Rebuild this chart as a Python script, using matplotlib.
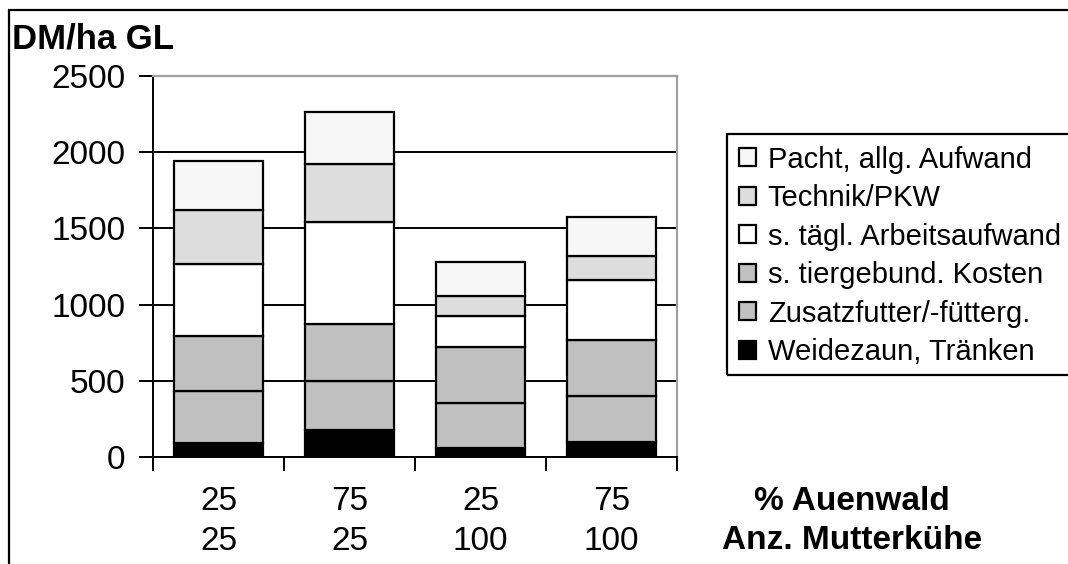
import numpy as np
import matplotlib
matplotlib.use('Agg')
import matplotlib.pyplot as plt
from matplotlib.patches import Rectangle, Patch

plt.rcParams['font.family'] = ['Liberation Sans', 'DejaVu Sans']

auenwald = ['25', '75', '25', '75']
mutterkuehe = ['25', '25', '100', '100']

# stacked from bottom to top
segments = ['Weidezaun, Tränken',
            'Zusatzfutter/-fütterg.',
            's. tiergebund. Kosten',
            's. tägl. Arbeitsaufwand',
            'Technik/PKW',
            'Pacht, allg. Aufwand']
values = {
    'Weidezaun, Tränken':      [95, 178, 59, 97],
    'Zusatzfutter/-fütterg.':  [341, 322, 298, 304],
    's. tiergebund. Kosten':   [356, 373, 367, 369],
    's. tägl. Arbeitsaufwand': [473, 669, 199, 390],
    'Technik/PKW':             [358, 379, 132, 156],
    'Pacht, allg. Aufwand':    [316, 345, 224, 257],
}
colors = ['#000000', '#c0c0c0', '#c0c0c0', '#ffffff', '#dddddd', '#f7f7f7']

W, H = 1068, 564
fig = plt.figure(figsize=(W / 100, H / 100), dpi=100)
ax = fig.add_axes([153 / W, 1 - 457 / H, 524 / W, 381 / H])

x = np.arange(len(auenwald))
bottom = np.zeros(len(x))
for name, c in zip(segments, colors):
    v = np.array(values[name])
    ax.bar(x, v, 0.68, bottom=bottom, color=c, edgecolor='black', linewidth=1.6,
           zorder=3, label=name)
    bottom += v

ax.set_xlim(-0.5, 3.5)
ax.set_ylim(0, 2500)
ax.set_yticks(np.arange(0, 2501, 500))
ax.yaxis.grid(True, color='black', linewidth=1.4, zorder=0)
ax.tick_params(axis='y', labelsize=24, length=10, width=1.4, pad=10, direction='out')

ax.set_xticks(np.arange(-0.5, 4, 1))
ax.set_xticklabels([])
ax.tick_params(axis='x', which='major', length=10, width=1.4, direction='out')
ax.set_xticks(x, [a + '\n' + m for a, m in zip(auenwald, mutterkuehe)], minor=True)
ax.tick_params(axis='x', which='minor', length=0, labelsize=24, pad=21)
for lab in ax.get_xticklabels(minor=True):
    lab.set_linespacing(1.35)

for s in ['top', 'right']:
    ax.spines[s].set_color('#a0a0a0')
    ax.spines[s].set_linewidth(1.6)
for s in ['left', 'bottom']:
    ax.spines[s].set_linewidth(1.4)

fig.text(12 / W, 1 - 39 / H, 'DM/ha GL', fontsize=25, fontweight='bold', va='center', ha='left')
fig.text(852 / W, 1 - 521 / H, '% Auenwald\nAnz. Mutterkühe', fontsize=24, fontweight='bold',
         va='center', ha='center', linespacing=1.35)

# legend box runs past the right edge of the picture, as in the original
handles = [Patch(facecolor=c, edgecolor='black', linewidth=1.6) for c in colors][::-1]
leg = fig.legend(handles, segments[::-1], loc='upper left',
                 bbox_to_anchor=(727 / W, 1 - 134 / H), borderaxespad=0,
                 fontsize=21, frameon=False,
                 handlelength=0.58, handleheight=0.58, handletextpad=0.42,
                 labelspacing=0.36, borderpad=0.4)
fig.patches.append(Rectangle((727 / W, 1 - 375 / H), 400 / W, 241 / H, transform=fig.transFigure,
                             fill=False, edgecolor='black', linewidth=1.6))

# outer chart frame, cut off at the right and bottom edges
fig.patches.append(Rectangle((9 / W, -0.1), 1.2, 1.1 - 10 / H, transform=fig.transFigure,
                             fill=False, edgecolor='black', linewidth=1.6))

fig.savefig('out.png', dpi=100)
